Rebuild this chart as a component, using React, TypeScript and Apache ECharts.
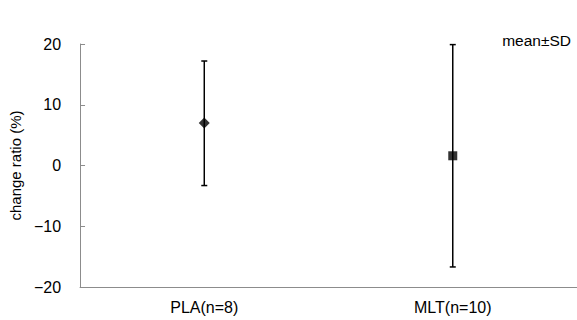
import React, { useEffect, useRef } from "react";
import * as echarts from "echarts";

const categories = ["PLA(n=8)", "MLT(n=10)"];
const means = [7.0, 1.6];
const upper = [17.2, 19.9];
const lower = [-3.3, -16.7];
const symbols = ["diamond", "rect"];
const yTicks = { min: -20, max: 20, interval: 10 };

export default function App() {
  const ref = useRef<HTMLDivElement>(null);
  useEffect(() => {
    if (!ref.current) return;
    const chart = echarts.init(ref.current, null, { renderer: "svg" });
    const font = "'Liberation Sans', Arial, sans-serif";
    chart.setOption({
      animation: false,
      backgroundColor: "#ffffff",
      grid: { left: 79, right: 0, top: 44, bottom: 33, containLabel: false },
      xAxis: {
        type: "category",
        data: categories,
        boundaryGap: true,
        axisLine: { onZero: false, lineStyle: { color: "#8c8c8c", width: 1 } },
        axisTick: { show: false },
        axisLabel: { color: "#000", fontSize: 16, fontFamily: font, margin: 12 },
      },
      yAxis: {
        type: "value",
        min: yTicks.min,
        max: yTicks.max,
        interval: yTicks.interval,
        name: "change ratio (%)",
        nameLocation: "middle",
        nameGap: 44,
        nameRotate: 90,
        nameTextStyle: { color: "#000", fontSize: 15, fontFamily: font },
        axisLine: { show: true, lineStyle: { color: "#8c8c8c", width: 1 } },
        axisTick: { show: true, inside: true, length: 5, lineStyle: { color: "#8c8c8c" } },
        splitLine: { show: false },
        axisLabel: {
          color: "#000",
          fontSize: 16,
          fontFamily: font,
          margin: 19,
          formatter: (v: number) => String(v).replace("-", "\u2212"),
        },
      },
      graphic: [
        {
          type: "text",
          right: 6,
          top: 32,
          style: { text: "mean\u00B1SD", fontSize: 15.5, fontFamily: font, fill: "#000" },
        },
      ],
      series: [
        {
          type: "custom",
          data: categories.map((_, i) => [i, lower[i], upper[i]]),
          renderItem: (params: any, api: any) => {
            const x = api.value(0);
            const lo = api.coord([x, api.value(1)]);
            const hi = api.coord([x, api.value(2)]);
            const hw = 3;
            const style = { stroke: "#000", lineWidth: 1.5 };
            return {
              type: "group",
              children: [
                { type: "line", shape: { x1: hi[0], y1: hi[1], x2: lo[0], y2: lo[1] }, style },
                { type: "line", shape: { x1: hi[0] - hw, y1: hi[1], x2: hi[0] + hw, y2: hi[1] }, style },
                { type: "line", shape: { x1: lo[0] - hw, y1: lo[1], x2: lo[0] + hw, y2: lo[1] }, style },
              ],
            };
          },
          z: 2,
        },
        {
          type: "scatter",
          data: categories.map((_, i) => ({
            value: [i, means[i]],
            symbol: symbols[i],
            symbolSize: i === 0 ? 11 : 9,
          })),
          itemStyle: { color: "#000" },
          z: 3,
        },
      ],
    });
    return () => chart.dispose();
  }, []);
  return (
    <div
      ref={ref}
      style={{ position: "fixed", left: 0, top: 0, width: 577, height: 320 }}
    />
  );
}
